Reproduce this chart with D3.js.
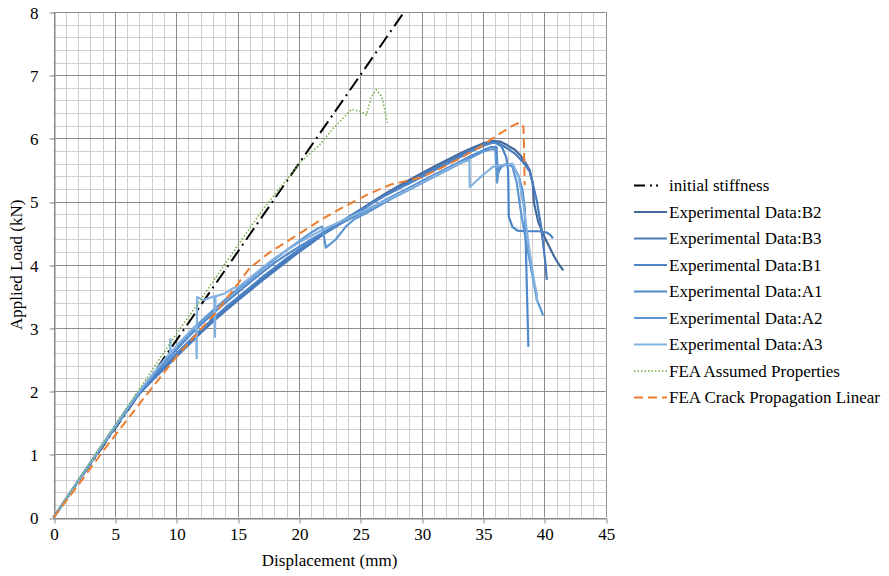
<!DOCTYPE html>
<html>
<head>
<meta charset="utf-8">
<script src="https://cdn.jsdelivr.net/npm/d3@7"></script>
<style>
  html, body { margin: 0; padding: 0; background: #fff; }
  svg { display: block; }
  svg text { font-family: "Liberation Serif", "Times New Roman", serif; }
</style>
</head>
<body>
<svg id="chart" width="889" height="576"></svg>
<script>
// Axis settings
const xTicks = [0, 5, 10, 15, 20, 25, 30, 35, 40, 45];
const yTicks = [0, 1, 2, 3, 4, 5, 6, 7, 8];
const xTitle = "Displacement (mm)";
const yTitle = "Applied Load (kN)";

// Series: [displacement (mm), load (kN)]
const initialStiffness = [[0, 0], [28.57, 8.0]];

const expB2 = [[0,0],[2,0.57],[4,1.14],[6,1.7],[7,1.97],[8,2.17],[9,2.37],[10,2.56],[11,2.75],[12,2.94],[13,3.12],[14,3.29],[15,3.45],[16,3.61],[17,3.77],[18,3.92],[19,4.08],[20,4.22],[21,4.37],[22,4.5],[23,4.63],[24,4.75],[25,4.87],[26,5.0],[27,5.12],[28,5.23],[29,5.34],[30,5.45],[31,5.55],[32,5.65],[33,5.75],[34,5.84],[35,5.92],[35.8,5.96],[36.4,5.95],[37.0,5.89],[37.6,5.82],[38.1,5.72],[38.5,5.6],[38.8,5.5],[39.05,5.3],[39.15,4.98],[39.5,4.68],[40.06,4.42],[40.8,4.13],[41.2,4.0],[41.55,3.91]];

const expB3 = [[0,0],[2,0.57],[4,1.14],[6,1.7],[7,1.96],[8,2.16],[9,2.35],[10,2.54],[11,2.73],[12,2.92],[13,3.1],[14,3.27],[15,3.43],[16,3.59],[17,3.75],[18,3.9],[19,4.05],[20,4.2],[21,4.34],[22,4.48],[23,4.6],[24,4.73],[25,4.85],[26,4.98],[27,5.1],[28,5.21],[29,5.31],[30,5.42],[31,5.52],[32,5.62],[33,5.72],[34,5.82],[35,5.9],[35.6,5.94],[36.3,5.92],[37.0,5.84],[37.6,5.76],[38.2,5.64],[38.8,5.48],[39.1,5.25],[39.4,5.0],[39.7,4.65],[39.9,4.34],[40.1,4.0],[40.2,3.76]];

const expB1 = [[0,0],[2,0.57],[4,1.14],[6,1.7],[7,1.97],[8,2.18],[9,2.39],[10,2.59],[11,2.78],[12,2.97],[13,3.15],[14,3.32],[15,3.48],[16,3.64],[17,3.8],[18,3.95],[19,4.1],[20,4.24],[21,4.38],[22,4.51],[23,4.63],[24,4.75],[25,4.87],[26,4.98],[27,5.09],[28,5.19],[29,5.29],[30,5.39],[31,5.49],[32,5.59],[33,5.69],[34,5.79],[35,5.88],[35.9,5.94],[36.5,5.88],[36.9,5.7],[37.05,5.5],[37.08,5.1],[37.1,4.76],[37.4,4.6],[37.8,4.54],[38.5,4.53],[39.5,4.53],[40.2,4.51],[40.5,4.47],[40.7,4.42]];

const expA1 = [[0,0],[2,0.57],[4,1.14],[6,1.71],[7,1.98],[8,2.21],[9,2.44],[10,2.65],[11,2.86],[12,3.05],[13,3.23],[14,3.4],[15,3.56],[16,3.72],[17,3.88],[18,4.03],[19,4.16],[20,4.28],[21,4.4],[22,4.51],[23,4.61],[24,4.71],[25,4.81],[26,4.91],[27,5.02],[28,5.12],[29,5.22],[30,5.32],[31,5.42],[32,5.52],[33,5.62],[34,5.72],[35,5.81],[35.6,5.86],[36.1,5.86],[36.2,5.45],[36.5,5.55],[37.0,5.6],[37.5,5.55],[37.9,5.4],[38.2,5.2],[38.4,4.9],[38.5,4.23],[38.6,3.44],[38.7,2.7]];

const expA2 = [[0,0],[2,0.58],[4,1.15],[6,1.72],[7,1.99],[8,2.23],[9,2.47],[10,2.69],[11,2.9],[12,3.1],[13,3.28],[14,3.45],[15,3.61],[16,3.77],[17,3.93],[18,4.08],[19,4.23],[20,4.37],[21,4.51],[21.8,4.6],[21.9,4.6],[22.2,4.27],[23.0,4.4],[23.8,4.6],[24.5,4.72],[25.5,4.82],[26.5,4.93],[27.5,5.04],[28.5,5.14],[29.5,5.24],[30.5,5.34],[31.5,5.44],[32.5,5.54],[33.5,5.64],[34.5,5.74],[35,5.79],[35.5,5.82],[36.0,5.83],[36.15,5.3],[36.3,5.55],[37.0,5.6],[37.4,5.55],[37.75,5.3],[38.0,4.95],[38.3,4.6],[38.8,4.07],[39.1,3.75],[39.4,3.44],[39.7,3.3],[39.9,3.2]];

const expA3 = [[0,0],[2,0.58],[4,1.16],[6,1.73],[7,2.0],[8,2.25],[9,2.49],[9.5,2.6],[9.52,2.82],[9.55,2.6],[10,2.71],[11,2.92],[11.6,3.04],[11.67,2.52],[11.7,3.49],[12.2,3.44],[13.1,3.5],[13.16,2.86],[13.2,3.5],[14,3.55],[14.65,3.63],[15,3.64],[16,3.79],[17,3.95],[18,4.1],[19,4.23],[20,4.35],[21,4.46],[22,4.56],[23,4.65],[24,4.74],[25,4.83],[26,4.92],[27,5.01],[28,5.1],[29,5.2],[30,5.3],[31,5.4],[32,5.5],[33,5.6],[33.9,5.66],[33.92,5.23],[35.0,5.42],[35.8,5.55],[36.7,5.58],[37.4,5.6],[37.9,5.4],[38.3,4.95],[38.8,4.2],[39.2,3.7],[39.4,3.52],[39.35,3.45],[39.5,3.41]];

const feaAssumed = [[0,0],[5,1.46],[8.13,2.36],[10,2.9],[12,3.45],[14,4.02],[17,4.86],[20.1,5.62],[21.7,5.9],[22.8,6.16],[24.3,6.46],[25.1,6.42],[25.5,6.37],[25.9,6.66],[26.3,6.77],[26.75,6.66],[27.0,6.45],[27.2,6.25]];

const feaCrack = [[0,0],[2,0.51],[4.3,1.12],[7.05,1.81],[10,2.54],[13.3,3.26],[16.0,3.95],[17.65,4.2],[20.1,4.5],[21.7,4.7],[23.5,4.9],[25.8,5.13],[27.5,5.27],[29.9,5.38],[31.5,5.52],[32.9,5.66],[34.8,5.87],[36.4,6.08],[37.5,6.21],[38.0,6.25],[38.3,6.18],[38.35,5.8],[38.4,5.26]];

const seriesNames = ["initial stiffness","Experimental Data:B2","Experimental Data:B3","Experimental Data:B1","Experimental Data:A1","Experimental Data:A2","Experimental Data:A3","FEA Assumed Properties","FEA Crack Propagation Linear"];
const seriesData = [initialStiffness, expB2, expB3, expB1, expA1, expA2, expA3, feaAssumed, feaCrack];

const styles = [
  { color: "#000000", width: 2,   dash: "14,5,2,5", legendDash: "11,5,2,4,2,20" },
  { color: "#44699a", width: 2.2, dash: null },
  { color: "#4a7bbd", width: 2.2, dash: null },
  { color: "#4d84c8", width: 2.2, dash: null },
  { color: "#5289cb", width: 2.2, dash: null },
  { color: "#5c97d3", width: 2.2, dash: null },
  { color: "#83b1e0", width: 2.2, dash: null },
  { color: "#70ad47", width: 1.5, dash: "1.5,2" },
  { color: "#ed7d31", width: 2,   dash: "9,5" }
];

const FONT = "'Liberation Serif', 'Times New Roman', serif";
const svg = d3.select("#chart");
const plot = { left: 53.5, right: 605.7, top: 12, bottom: 517.5 };

const x = d3.scaleLinear().domain([0, 45]).range([plot.left, plot.right]);
const y = d3.scaleLinear().domain([0, 8]).range([plot.bottom, plot.top]);
const crisp = v => Math.round(v) + 0.5;

// Grid: minor every 1 mm / 0.2 kN, major on the labelled ticks
const grid = svg.append("g");
d3.range(0, 46, 1).filter(v => v % 5 !== 0).forEach(v => {
  grid.append("line")
    .attr("x1", crisp(x(v))).attr("x2", crisp(x(v)))
    .attr("y1", y(8)).attr("y2", y(0))
    .attr("stroke", "#cfcfcf");
});
d3.range(0, 41, 1).filter(i => i % 5 !== 0).map(i => i * 0.2).forEach(v => {
  grid.append("line")
    .attr("x1", x(0)).attr("x2", x(45))
    .attr("y1", crisp(y(v))).attr("y2", crisp(y(v)))
    .attr("stroke", "#cfcfcf");
});
xTicks.forEach(v => grid.append("line")
  .attr("x1", crisp(x(v))).attr("x2", crisp(x(v))).attr("y1", y(8)).attr("y2", y(0))
  .attr("stroke", "#8c8c8c"));
yTicks.forEach(v => grid.append("line")
  .attr("x1", x(0)).attr("x2", x(45)).attr("y1", crisp(y(v))).attr("y2", crisp(y(v)))
  .attr("stroke", "#8c8c8c"));

// Axes
const xAxis = d3.axisBottom(x).tickValues(xTicks).tickSize(5).tickSizeOuter(0);
const yAxis = d3.axisLeft(y).tickValues(yTicks).tickSize(5).tickSizeOuter(0);

const gx = svg.append("g").attr("transform", `translate(0.5,${crisp(y(0))})`).call(xAxis);
const gy = svg.append("g").attr("transform", `translate(${crisp(x(0))},0.5)`).call(yAxis);
[gx, gy].forEach(g => {
  g.attr("font-family", null);
  g.select(".domain").attr("stroke", "#868686");
  g.selectAll(".tick line").attr("stroke", "#868686");
  g.selectAll(".tick text").attr("fill", "#000").attr("font-size", 17)
    .style("font-family", FONT);
});
gx.selectAll(".tick line").attr("transform", d => `translate(${crisp(x(d)) - 0.5 - x(d)},0)`);
gx.selectAll(".tick text").attr("y", 9).attr("dy", "0.71em");
gy.selectAll(".tick line").attr("transform", d => `translate(0,${crisp(y(d)) - 0.5 - y(d)})`);
gy.selectAll(".tick text").attr("x", -16).attr("dy", "0.34em");

// Axis titles
svg.append("text")
  .attr("x", (plot.left + plot.right) / 2).attr("y", 566)
  .attr("text-anchor", "middle").attr("font-size", 17).style("font-family", FONT).text(xTitle);
svg.append("text")
  .attr("transform", `translate(22,${(plot.top + plot.bottom) / 2}) rotate(-90)`)
  .attr("text-anchor", "middle").attr("font-size", 17).style("font-family", FONT).text(yTitle);

// Series
const line = d3.line().x(d => x(d[0])).y(d => y(d[1]));
const lines = svg.append("g");
seriesData.forEach((data, i) => {
  const s = styles[i];
  lines.append("path")
    .attr("d", line(data))
    .attr("fill", "none")
    .attr("stroke", s.color)
    .attr("stroke-width", s.width)
    .attr("stroke-linejoin", "round")
    .attr("stroke-dasharray", s.dash);
});

// Legend
const legend = svg.append("g");
const legendTop = 185.5, legendStep = 26.5;
seriesNames.forEach((name, i) => {
  const s = styles[i];
  const ly = legendTop + i * legendStep;
  legend.append("line")
    .attr("x1", 634).attr("x2", 667).attr("y1", ly).attr("y2", ly)
    .attr("stroke", s.color).attr("stroke-width", s.width)
    .attr("stroke-dasharray", s.legendDash || s.dash);
  legend.append("text")
    .attr("x", 669).attr("y", ly).attr("dy", "0.33em")
    .attr("font-size", 17).attr("fill", "#000").style("font-family", FONT).text(name);
});
</script>
</body>
</html>
